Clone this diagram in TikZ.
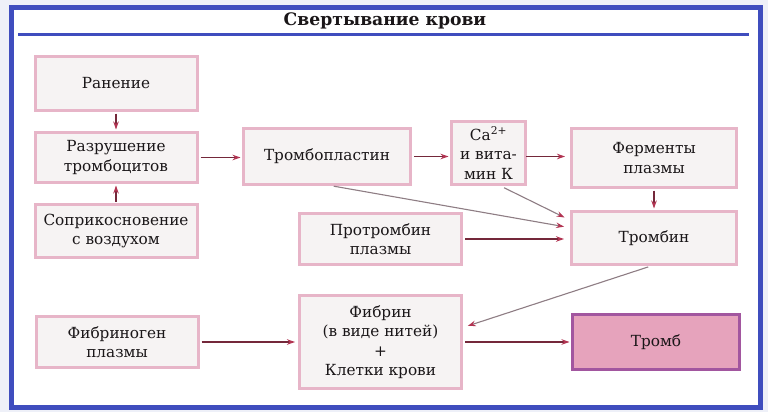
\documentclass[tikz,border=0pt]{standalone}
\usepackage{fontspec}
\setmainfont{DejaVu Serif}
\usetikzlibrary{arrows.meta,calc}
\definecolor{bgout}{HTML}{EEF0F8}
\definecolor{frameblue}{HTML}{3F4DBE}
\definecolor{boxpink}{HTML}{E7B5C8}
\definecolor{boxfill}{HTML}{F6F3F3}
\definecolor{trmfill}{HTML}{E6A3BC}
\definecolor{trmdraw}{HTML}{A2569F}
\definecolor{arrline}{HTML}{74283A}
\definecolor{arrgray}{HTML}{8E7D84}
\definecolor{arrhead}{HTML}{B23452}
\definecolor{txt}{HTML}{1A1618}
\tikzset{
  box/.style={draw=boxpink, line width=3pt, fill=boxfill, inner sep=0pt,
    align=center, text=txt, font=\fontsize{15.3}{19.5}\selectfont},
  tromb/.style={box, draw=trmdraw, fill=trmfill},
  arr/.style={draw=arrline, line width=1.1pt,
    -{Stealth[length=8pt,width=5.5pt,color=arrhead]}},
  arrg/.style={draw=arrgray, line width=1.1pt,
    -{Stealth[length=8pt,width=5.5pt,color=arrhead]}}
}
\begin{document}
\begin{tikzpicture}[x=1pt,y=-1pt]
\useasboundingbox (0,0) rectangle (768,412);
\fill[bgout] (0,0) rectangle (768,412);
\draw[frameblue, line width=5pt, fill=white] (11,8) rectangle (760,407);
\node[text=txt, font=\bfseries\fontsize{17.2}{19}\selectfont] (title) at (385,21) {Свертывание крови};
\draw[frameblue, line width=3pt] (18,35) -- (749,35);

\node[box, minimum width=162pt, minimum height=54pt] (ran) at (116,83.5) {Ранение};
\node[box, minimum width=162pt, minimum height=50pt] (raz) at (116,157.5) {Разрушение\\тромбоцитов};
\node[box, minimum width=162pt, minimum height=53pt] (sop) at (116,231) {Соприкосновение\\с воздухом};
\node[box, minimum width=162pt, minimum height=51pt] (fibg) at (117,342) {Фибриноген\\плазмы};

\node[box, minimum width=167pt, minimum height=56pt] (trp) at (327,156.5) {Тромбопластин};
\node[box, minimum width=74pt, minimum height=63pt] (ca) at (488.5,153) {Ca\textsuperscript{2+}\\и вита-\\мин К};
\node[box, minimum width=165pt, minimum height=59pt] (fer) at (654,158) {Ферменты\\плазмы};
\node[box, minimum width=162pt, minimum height=51pt] (prt) at (380.5,239) {Протромбин\\плазмы};
\node[box, minimum width=165pt, minimum height=53pt] (trb) at (654,238) {Тромбин};
\node[box, minimum width=162pt, minimum height=93pt] (fib) at (380.5,342) {Фибрин\\(в виде нитей)\\+\\Клетки крови};
\node[tromb, minimum width=167pt, minimum height=55pt] (trm) at (656,342) {Тромб};

\draw[arr, shorten <=1.5pt, shorten >=1.5pt] (ran.south) -- (raz.north);
\draw[arr, shorten <=1.5pt, shorten >=1.5pt] (sop.north) -- (raz.south);
\draw[arr, shorten <=2pt, shorten >=1.5pt] (raz.east) -- (raz.east -| trp.west);
\draw[arr, shorten <=2pt, shorten >=1.5pt] (trp.east) -- (trp.east -| ca.west);
\draw[arr, shorten <=2pt, shorten >=5pt] (ca.west |- trp.east) ++(74,0) coordinate (caE) (caE) -- (caE -| fer.west);
\draw[arr, shorten <=1.5pt, shorten >=1.5pt] (trb.north |- fer.south) -- (trb.north);
\draw[arrg, shorten <=1pt, shorten >=6pt] (trp.-79) -- (trb.173);
\draw[arrg, shorten <=4pt, shorten >=6pt] (ca.-70) -- (trb.168);
\draw[arr, shorten <=2pt, shorten >=6pt] (prt.east) -- (trb.west |- prt.east);
\draw[arrg, shorten <=3pt, shorten >=5pt] (trb.-96) -- (fib.10);
\draw[arr, shorten <=2pt, shorten >=3pt] (fibg.east) -- (fib.west);
\draw[arr, shorten <=2pt, shorten >=1.5pt] (fib.east) -- (trm.west);
\end{tikzpicture}
\end{document}
